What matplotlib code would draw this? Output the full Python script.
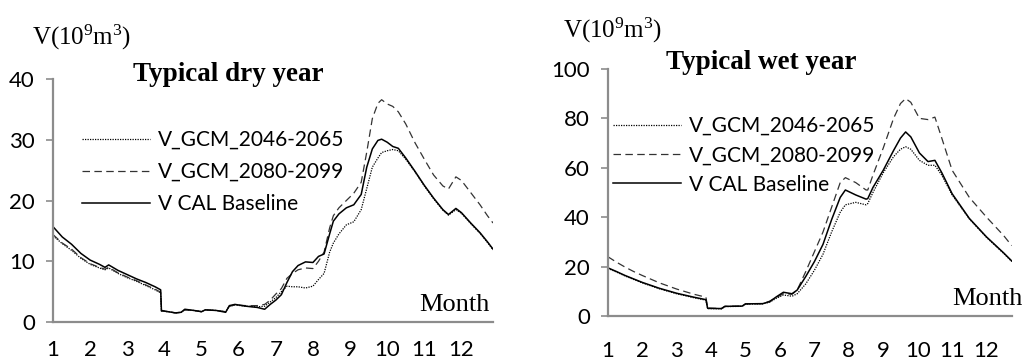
import numpy as np
import matplotlib
matplotlib.use('Agg')
import matplotlib.pyplot as plt

# month axis (fractional month) and volumes
dry_month = [1.0, 1.25, 1.5, 1.75, 2.0, 2.25, 2.4, 2.5, 2.75, 3.0, 3.25, 3.5, 3.75, 3.9, 3.92,
             4.1, 4.3, 4.45, 4.55, 4.8, 5.0, 5.1, 5.4, 5.65, 5.75, 5.9, 6.2, 6.5, 6.7, 6.85,
             7.0, 7.15, 7.3, 7.45, 7.6, 7.8, 8.0, 8.15, 8.3, 8.45, 8.55, 8.7, 8.9, 9.1, 9.3,
             9.45, 9.6, 9.75, 9.85, 10.0, 10.15, 10.3, 10.5, 10.75, 11.0, 11.25, 11.5, 11.65,
             11.85, 12.0, 12.25, 12.5, 12.7, 12.85]
dry_base = [15.7, 14.0, 12.8, 11.3, 10.2, 9.5, 9.0, 9.4, 8.5, 7.8, 7.1, 6.5, 5.8, 5.3, 1.9,
            1.7, 1.5, 1.6, 2.1, 1.9, 1.7, 2.0, 1.9, 1.6, 2.7, 2.9, 2.6, 2.4, 2.1, 2.9,
            3.6, 4.5, 6.5, 8.3, 9.3, 9.9, 9.8, 10.8, 11.2, 14.5, 16.6, 17.8, 18.8, 19.3, 21.0,
            25.5, 28.5, 29.9, 30.1, 29.6, 28.9, 28.6, 27.0, 24.8, 22.5, 20.4, 18.5, 17.7,
            18.7, 18.0, 16.3, 14.7, 13.2, 12.0]
dry_gcm80 = [14.4, 13.0, 12.0, 10.6, 9.6, 9.0, 8.7, 9.0, 8.1, 7.4, 6.8, 6.1, 5.4, 4.9, 1.8,
             1.7, 1.5, 1.6, 2.0, 1.9, 1.7, 2.0, 1.9, 1.7, 2.6, 2.8, 2.7, 2.7, 2.9, 3.6,
             4.6, 5.5, 7.2, 8.0, 8.6, 8.9, 8.8, 10.0, 11.5, 15.5, 17.5, 18.8, 20.0, 21.2, 23.0,
             28.0, 33.5, 36.0, 36.6, 35.9, 35.5, 34.6, 32.6, 29.5, 26.8, 24.2, 22.4, 21.9,
             23.9, 23.3, 21.3, 19.3, 17.5, 16.3]
dry_gcm46 = [14.2, 12.9, 11.8, 10.5, 9.5, 8.9, 8.6, 8.9, 8.0, 7.3, 6.7, 6.0, 5.3, 4.8, 1.8,
             1.7, 1.5, 1.6, 2.0, 1.9, 1.7, 2.0, 1.9, 1.7, 2.6, 2.8, 2.6, 2.5, 2.6, 3.3,
             4.0, 5.0, 5.9, 5.8, 5.8, 5.6, 5.9, 7.0, 8.0, 11.5, 13.0, 14.5, 16.0, 16.5, 18.5,
             22.0, 25.5, 27.0, 27.9, 28.2, 28.4, 28.2, 26.8, 24.7, 22.4, 20.3, 18.4, 17.6,
             18.5, 17.9, 16.2, 14.6, 13.1, 11.9]

wet_month = [1.0, 1.25, 1.5, 1.75, 2.0, 2.5, 3.0, 3.5, 3.85, 3.9, 4.3, 4.4, 4.9, 5.0, 5.5,
             5.7, 5.9, 6.1, 6.35, 6.5, 6.75, 7.0, 7.25, 7.5, 7.75, 7.9, 8.2, 8.5, 8.55, 8.7,
             9.0, 9.3, 9.5, 9.65, 9.8, 10.05, 10.3, 10.5, 10.7, 11.0, 11.5, 12.0, 12.5, 12.73]
wet_base = [19.5, 18.0, 16.4, 15.0, 13.6, 11.2, 9.2, 7.6, 6.6, 3.1, 3.0, 3.9, 4.0, 4.9, 5.0,
            5.8, 7.8, 9.6, 9.0, 10.5, 16, 22, 29, 39, 48, 51, 49, 47.3, 47.5, 52,
            59, 67, 72, 74.5, 72.5, 66, 62.5, 63, 58, 49.5, 39.5, 32, 25.5, 22.3]
wet_gcm80 = [24.0, 21.8, 19.8, 18.0, 16.4, 13.4, 10.9, 8.8, 7.6, 3.2, 3.0, 3.9, 4.0, 4.9, 5.0,
             6.0, 7.5, 9.0, 8.8, 10.5, 18, 26, 34, 44, 54, 56, 54, 51, 51, 57,
             68, 80, 86, 88, 86.5, 80, 79.5, 80.5, 72, 59, 48, 40, 32.5, 28.5]
wet_gcm46 = [19.3, 17.8, 16.2, 14.8, 13.4, 11.0, 9.0, 7.4, 6.4, 3.0, 2.9, 3.8, 3.9, 4.8, 4.9,
             5.6, 7.2, 8.5, 8.0, 9.0, 13, 18.5, 25, 34, 42, 45, 46, 45, 45.5, 50,
             58, 64.5, 67.5, 68.5, 67.5, 63, 61, 61, 57, 49, 39.3, 31.8, 25.3, 22.1]

months = list(range(1, 13))
labels = ['V_GCM_2046-2065', 'V_GCM_2080-2099', 'V CAL Baseline']

sans = ['Lato', 'DejaVu Sans']
serif = ['Liberation Serif', 'DejaVu Serif']
gray = '#8c8c8c'

plt.rcParams['mathtext.fontset'] = 'custom'
plt.rcParams['mathtext.rm'] = 'Liberation Serif'
plt.rcParams['mathtext.default'] = 'rm'

fig = plt.figure(figsize=(10.25, 3.61), dpi=100)
ax1 = fig.add_axes([0.0517, 0.108, 0.4293, 0.673])
ax2 = fig.add_axes([0.593, 0.1247, 0.394, 0.6843])


def draw(ax, x, g46, g80, base, xmax, ymax, ystep, xpad):
    ax.plot(x, g46, color='black', lw=0.9, ls=(0, (1, 1)), label=labels[0])
    ax.plot(x, g80, color='#333333', lw=0.9, ls=(0, (6, 3.5)), label=labels[1])
    ax.plot(x, base, color='black', lw=1.1, label=labels[2])
    ax.set_xlim(1, xmax)
    ax.set_ylim(0, ymax)
    ax.set_xticks(months)
    ax.set_yticks(np.arange(0, ymax + 1, ystep))
    for s in ['top', 'right']:
        ax.spines[s].set_visible(False)
    for s in ['left', 'bottom']:
        ax.spines[s].set_color(gray)
        ax.spines[s].set_linewidth(1.6)
    ax.tick_params(axis='y', length=5, width=1.2, color=gray, pad=8)
    ax.tick_params(axis='x', length=0, pad=xpad)
    for t in ax.get_xticklabels() + ax.get_yticklabels():
        t.set_family(sans)
        t.set_fontsize(16)


draw(ax1, dry_month, dry_gcm46, dry_gcm80, dry_base, 12.85, 40, 10, 13)
draw(ax2, wet_month, wet_gcm46, wet_gcm80, wet_base, 12.73, 100, 20, 18)

leg1 = ax1.legend(loc='upper left', bbox_to_anchor=(0.065, 0.79), frameon=False,
                  handlelength=3.3, handletextpad=0.35, labelspacing=0.58,
                  borderaxespad=0, borderpad=0, prop={'family': sans, 'size': 15})
leg2 = ax2.legend(loc='upper left', bbox_to_anchor=(0.012, 0.81), frameon=False,
                  handlelength=3.3, handletextpad=0.35, labelspacing=0.45,
                  borderaxespad=0, borderpad=0, prop={'family': sans, 'size': 15})

fig.text(0.223, 0.795, 'Typical dry year', ha='center', va='center',
         family=serif, weight='bold', fontsize=19.5)
fig.text(0.743, 0.826, 'Typical wet year', ha='center', va='center',
         family=serif, weight='bold', fontsize=19.5)
fig.text(0.031, 0.895, r'V(10$^9$m$^3$)', ha='left', va='center', family=serif, fontsize=18)
fig.text(0.549, 0.915, r'V(10$^9$m$^3$)', ha='left', va='center', family=serif, fontsize=18)
fig.text(0.478, 0.155, 'Month', ha='right', va='center', family=serif, fontsize=19)
fig.text(0.998, 0.172, 'Month', ha='right', va='center', family=serif, fontsize=19)

fig.savefig('out.png', dpi=100)
